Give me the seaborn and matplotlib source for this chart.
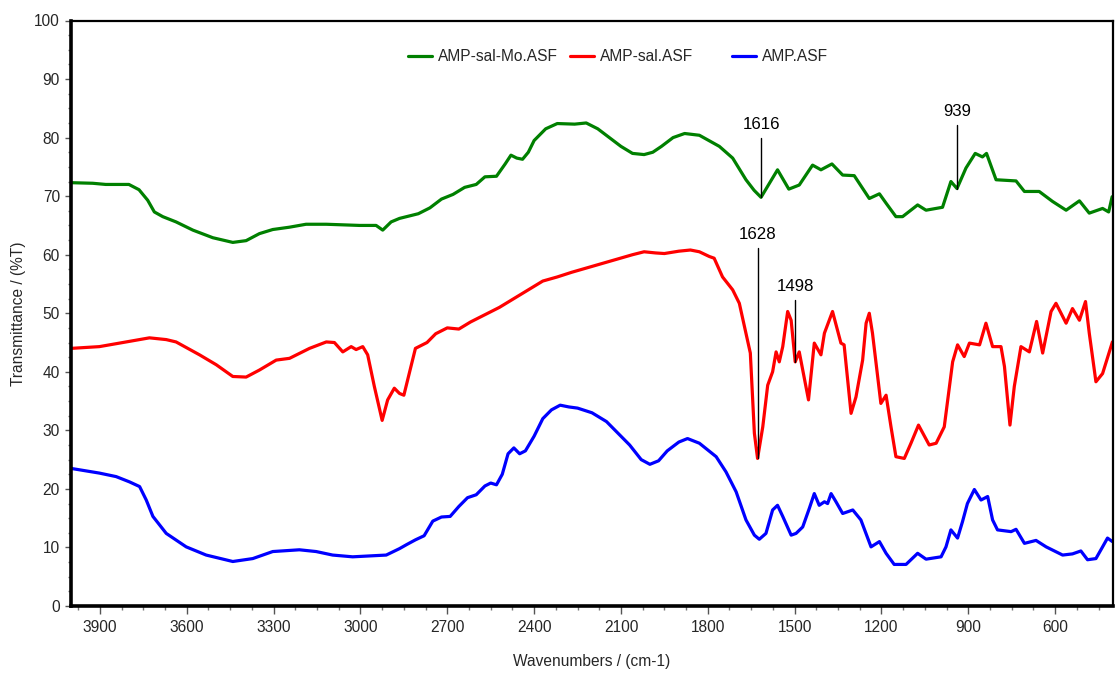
import numpy as np
import pandas as pd
import seaborn as sns
import matplotlib
matplotlib.use("Agg")
import matplotlib.pyplot as plt
from matplotlib import font_manager
from matplotlib.ticker import MultipleLocator, FixedLocator
from matplotlib.lines import Line2D

# FTIR transmittance spectra, (wavenumber cm-1, %T)
amp_sal_mo = [
    (4000, 72.3), (3925, 72.2), (3880, 72.0), (3800, 72.0), (3765, 71.1), (3735, 69.3),
    (3712, 67.3), (3683, 66.5), (3637, 65.6), (3579, 64.2), (3510, 62.9), (3441, 62.1),
    (3395, 62.4), (3349, 63.6), (3303, 64.3), (3245, 64.7), (3188, 65.2), (3118, 65.2),
    (3003, 65.0), (2946, 65.0), (2923, 64.2), (2894, 65.6), (2865, 66.2), (2800, 67.0),
    (2760, 68.0), (2720, 69.5), (2680, 70.3), (2640, 71.5), (2600, 72.0), (2570, 73.3),
    (2530, 73.4), (2500, 75.5), (2480, 77.0), (2460, 76.5), (2440, 76.3), (2420, 77.5),
    (2400, 79.5), (2360, 81.5), (2320, 82.4), (2260, 82.3), (2220, 82.5), (2180, 81.5),
    (2140, 80.0), (2100, 78.5), (2060, 77.3), (2020, 77.1), (1990, 77.5), (1960, 78.5),
    (1920, 80.0), (1880, 80.7), (1829, 80.4), (1760, 78.5), (1714, 76.5), (1668, 72.8),
    (1640, 71.0), (1616, 69.8), (1587, 72.2), (1559, 74.5), (1520, 71.2), (1484, 71.9),
    (1438, 75.3), (1409, 74.5), (1371, 75.5), (1334, 73.6), (1294, 73.5), (1242, 69.6),
    (1207, 70.4), (1184, 68.8), (1150, 66.5), (1127, 66.5), (1075, 68.5), (1046, 67.6),
    (989, 68.1), (960, 72.5), (939, 71.3), (908, 74.8), (876, 77.3), (851, 76.7),
    (837, 77.3), (804, 72.8), (735, 72.6), (706, 70.8), (655, 70.8), (609, 69.1),
    (562, 67.6), (516, 69.2), (482, 67.1), (436, 67.9), (415, 67.3), (403, 69.9),
]

amp_sal = [
    (4000, 44.0), (3902, 44.3), (3821, 45.0), (3729, 45.8), (3671, 45.5), (3637, 45.1),
    (3556, 42.9), (3498, 41.2), (3441, 39.2), (3395, 39.1), (3349, 40.3), (3291, 42.0),
    (3245, 42.3), (3176, 44.0), (3118, 45.1), (3090, 45.0), (3061, 43.4), (3032, 44.3),
    (3015, 43.8), (2992, 44.3), (2975, 42.9), (2952, 37.5), (2925, 31.7), (2906, 35.2),
    (2883, 37.2), (2865, 36.3), (2850, 36.0), (2830, 40.0), (2810, 44.0), (2770, 45.0),
    (2740, 46.5), (2700, 47.5), (2660, 47.3), (2620, 48.5), (2580, 49.5), (2520, 51.0),
    (2470, 52.5), (2420, 54.0), (2370, 55.5), (2320, 56.2), (2270, 57.0), (2200, 58.0),
    (2130, 59.0), (2060, 60.0), (2020, 60.5), (1980, 60.3), (1950, 60.2), (1900, 60.6),
    (1860, 60.8), (1829, 60.5), (1795, 59.7), (1778, 59.4), (1749, 56.2), (1714, 54.0),
    (1691, 51.7), (1653, 43.2), (1639, 29.5), (1628, 25.2), (1610, 30.6), (1593, 37.7),
    (1576, 40.0), (1564, 43.4), (1553, 41.7), (1541, 44.3), (1524, 50.3), (1512, 48.8),
    (1498, 41.7), (1484, 43.4), (1452, 35.2), (1432, 44.9), (1409, 42.9), (1397, 46.6),
    (1369, 50.3), (1340, 44.9), (1329, 44.6), (1305, 32.9), (1288, 35.7), (1265, 42.0),
    (1253, 48.3), (1242, 50.0), (1231, 46.6), (1202, 34.6), (1184, 36.0), (1167, 30.6),
    (1150, 25.5), (1121, 25.2), (1098, 27.8), (1072, 30.9), (1035, 27.5), (1011, 27.8),
    (983, 30.6), (954, 41.7), (937, 44.6), (914, 42.6), (896, 44.9), (861, 44.6),
    (839, 48.3), (816, 44.3), (787, 44.3), (775, 40.9), (756, 30.9), (741, 37.5),
    (718, 44.3), (689, 43.4), (664, 48.6), (643, 43.2), (614, 50.3), (597, 51.7),
    (562, 48.3), (540, 50.8), (516, 48.8), (495, 52.0), (482, 46.6), (459, 38.3),
    (436, 39.7), (402, 45.1),
]

amp = [
    (4000, 23.5), (3902, 22.7), (3844, 22.1), (3798, 21.2), (3763, 20.4), (3740, 18.1),
    (3717, 15.3), (3671, 12.4), (3602, 10.1), (3533, 8.7), (3441, 7.6), (3372, 8.1),
    (3303, 9.3), (3211, 9.6), (3153, 9.3), (3096, 8.7), (3027, 8.4), (2911, 8.7),
    (2865, 9.8), (2840, 10.5), (2810, 11.3), (2780, 12.0), (2750, 14.5), (2720, 15.2),
    (2690, 15.3), (2660, 17.0), (2630, 18.5), (2600, 19.0), (2570, 20.5), (2550, 21.0),
    (2530, 20.7), (2510, 22.5), (2490, 26.0), (2470, 27.0), (2450, 26.0), (2430, 26.5),
    (2400, 29.0), (2370, 32.0), (2340, 33.5), (2310, 34.3), (2280, 34.0), (2250, 33.8),
    (2200, 33.0), (2150, 31.5), (2110, 29.5), (2070, 27.5), (2030, 25.0), (2000, 24.2),
    (1970, 24.8), (1940, 26.5), (1900, 28.0), (1870, 28.6), (1829, 27.8), (1771, 25.5),
    (1737, 22.9), (1702, 19.5), (1668, 14.7), (1639, 12.1), (1622, 11.4), (1599, 12.4),
    (1576, 16.4), (1559, 17.2), (1541, 15.3), (1512, 12.1), (1495, 12.4), (1472, 13.5),
    (1449, 16.7), (1432, 19.2), (1415, 17.2), (1397, 17.8), (1386, 17.5), (1374, 19.2),
    (1357, 17.8), (1334, 15.8), (1299, 16.4), (1271, 14.7), (1236, 10.1), (1207, 11.0),
    (1184, 9.0), (1156, 7.1), (1115, 7.1), (1075, 9.0), (1046, 8.0), (994, 8.4),
    (977, 10.1), (960, 13.0), (937, 11.6), (920, 14.4), (903, 17.5), (879, 19.9),
    (856, 18.1), (833, 18.7), (816, 14.7), (799, 13.0), (752, 12.7), (735, 13.1),
    (706, 10.7), (666, 11.2), (631, 10.1), (574, 8.7), (540, 8.9), (511, 9.4),
    (488, 7.9), (459, 8.1), (436, 10.1), (419, 11.6), (402, 11.0),
]

series_names = ["AMP-sal-Mo.ASF", "AMP-sal.ASF", "AMP.ASF"]
series_colors = ["#008000", "#ff0000", "#0000ff"]

# labelled bands: (series, wavenumber, label y)
peak_labels = [
    ("AMP-sal-Mo.ASF", 1616, 82.2),
    ("AMP-sal-Mo.ASF", 939, 84.4),
    ("AMP-sal.ASF", 1628, 63.4),
    ("AMP-sal.ASF", 1498, 54.5),
]

x_ticks = [3900, 3600, 3300, 3000, 2700, 2400, 2100, 1800, 1500, 1200, 900, 600]
y_ticks = [0, 10, 20, 30, 40, 50, 60, 70, 80, 90, 100]

rows = []
for name, pts in zip(series_names, [amp_sal_mo, amp_sal, amp]):
    for w, t in pts:
        rows.append({"Wavenumber": w, "Transmittance": t, "Sample": name})
df = pd.DataFrame(rows)

sns.set_theme(style="white")
installed = {f.name for f in font_manager.fontManager.ttflist}
family = "Liberation Sans Narrow" if "Liberation Sans Narrow" in installed else "Liberation Sans"
plt.rcParams["font.family"] = [family, "DejaVu Sans"]
fs = 12.5 if family == "Liberation Sans Narrow" else 11.2

fig = plt.figure(figsize=(11.18, 6.73), dpi=100)
ax = fig.add_axes([71 / 1118, 1 - 606 / 673, (1113 - 71) / 1118, (606 - 20.5) / 673])

palette = dict(zip(series_names, series_colors))
sns.lineplot(data=df, x="Wavenumber", y="Transmittance", hue="Sample",
             hue_order=series_names, palette=palette, sort=False,
             estimator=None, linewidth=2.3, legend=False, ax=ax)

ax.set_xlim(4000, 400)
ax.set_ylim(0, 100)
ax.xaxis.set_major_locator(FixedLocator(x_ticks))
ax.xaxis.set_minor_locator(MultipleLocator(75))
ax.yaxis.set_major_locator(FixedLocator(y_ticks))
ax.yaxis.set_minor_locator(MultipleLocator(2.5))
ax.tick_params(axis="x", which="major", direction="out", length=6, width=1,
               color="#555555", labelsize=fs, pad=4, bottom=True)
ax.tick_params(axis="x", which="minor", direction="out", length=3, width=1,
               color="#777777", bottom=True)
ax.tick_params(axis="y", which="major", direction="out", length=4, width=1,
               color="#555555", labelsize=fs, pad=4, left=True)
ax.tick_params(axis="y", which="minor", direction="out", length=2, width=1,
               color="#777777", left=True)

for side in ["left", "bottom"]:
    ax.spines[side].set_linewidth(2.6)
    ax.spines[side].set_color("black")
for side in ["top", "right"]:
    ax.spines[side].set_linewidth(1.6)
    ax.spines[side].set_color("black")

ax.set_xlabel("Wavenumbers / (cm-1)", fontsize=fs, labelpad=14)
ax.set_ylabel("Transmittance / (%T)", fontsize=fs, labelpad=6)

# band markers
curves = {"AMP-sal-Mo.ASF": amp_sal_mo, "AMP-sal.ASF": amp_sal, "AMP.ASF": amp}
for name, wn, ylab in peak_labels:
    pts = dict(curves[name])
    y0 = pts[wn]
    ax.plot([wn, wn], [y0, ylab - 2.2], color="black", lw=1.0, zorder=4)
    ax.text(wn, ylab, str(wn), ha="center", va="center", fontsize=fs + 1, color="black")

# legend entries placed along the top of the plot
legend_x = [408, 570, 732]
for name, color, xl in zip(series_names, series_colors, legend_x):
    h = Line2D([], [], color=color, lw=2.3)
    leg = fig.legend([h], [name], loc="center left",
                     bbox_to_anchor=(xl / 1118, 1 - 56.7 / 673),
                     frameon=False, borderpad=0, borderaxespad=0,
                     handlelength=1.55, handletextpad=0.35, fontsize=fs)

fig.savefig("out.png", dpi=100)
